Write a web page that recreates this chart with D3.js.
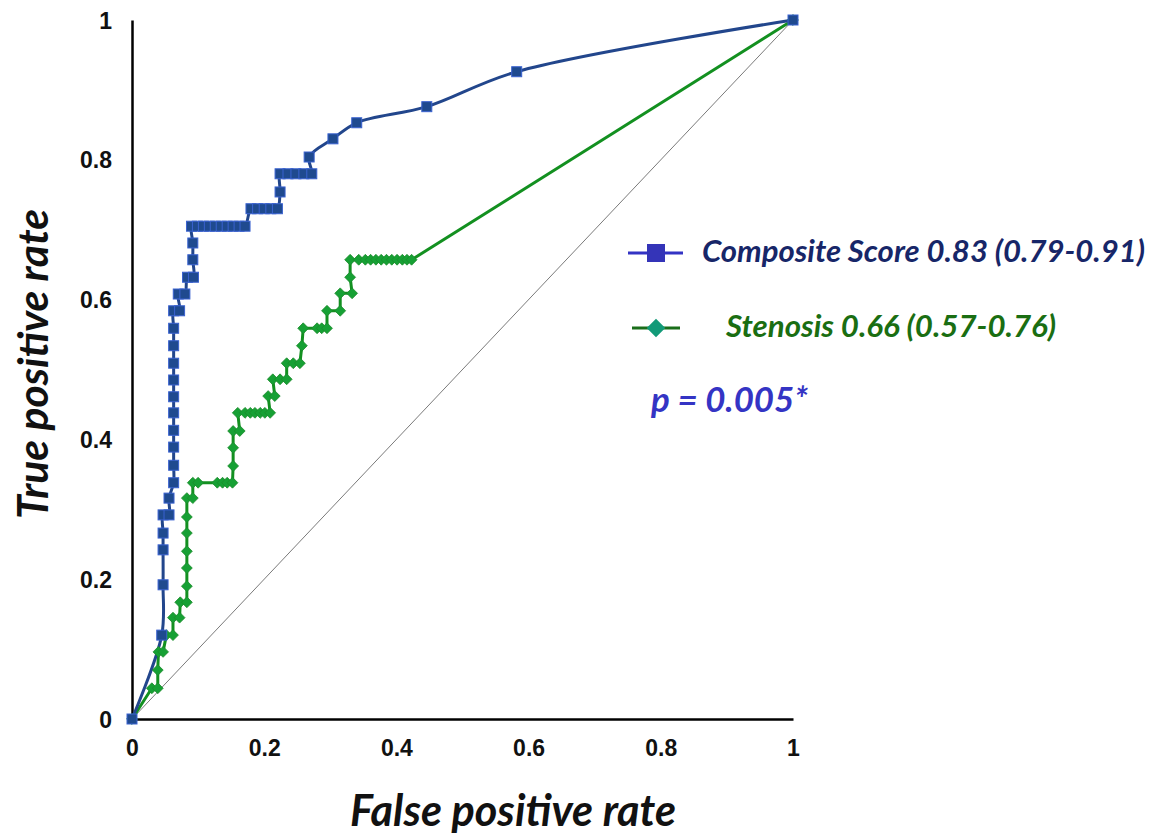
<!DOCTYPE html>
<html>
<head>
<meta charset="utf-8">
<script src="https://cdn.jsdelivr.net/npm/d3@7"></script>
<style>
  html, body { margin: 0; padding: 0; background: #fff; }
  svg { display: block; }
</style>
</head>
<body>
<svg id="chart" width="1164" height="834"></svg>
<script>
// ---- data ----
const xTicks = [0, 0.2, 0.4, 0.6, 0.8, 1];
const yTicks = [0, 0.2, 0.4, 0.6, 0.8, 1];
const xTickLabels = ["0", "0.2", "0.4", "0.6", "0.8", "1"];
const yTickLabels = ["0", "0.2", "0.4", "0.6", "0.8", "1"];

// Composite Score ROC (fpr, tpr)
const compositeFpr = [0, 0.045, 0.047, 0.047, 0.047, 0.047, 0.056, 0.056,
  0.063, 0.063, 0.063, 0.063, 0.063, 0.063, 0.063, 0.063, 0.063, 0.063,
  0.063, 0.072, 0.070, 0.080, 0.084, 0.093, 0.092, 0.092,
  0.090, 0.099, 0.108, 0.117, 0.126, 0.135, 0.144, 0.153, 0.162, 0.171,
  0.180, 0.190, 0.200, 0.210, 0.220, 0.224,
  0.224, 0.236, 0.248, 0.260, 0.272,
  0.268, 0.304, 0.340, 0.446, 0.582, 1];
const compositeTpr = [0, 0.120, 0.192, 0.242, 0.266, 0.292, 0.292, 0.316,
  0.338, 0.363, 0.389, 0.413, 0.438, 0.461, 0.485, 0.509, 0.534, 0.559,
  0.584, 0.584, 0.608, 0.608, 0.632, 0.632, 0.657, 0.681,
  0.705, 0.705, 0.705, 0.705, 0.705, 0.705, 0.705, 0.705, 0.705, 0.705,
  0.730, 0.730, 0.730, 0.730, 0.730, 0.754,
  0.780, 0.780, 0.780, 0.780, 0.780,
  0.804, 0.830, 0.853, 0.876, 0.926, 1];

// Stenosis ROC (fpr, tpr)
const stenosisFpr = [0, 0.030, 0.039, 0.039, 0.040, 0.047, 0.052, 0.062,
  0.062, 0.072, 0.073, 0.083, 0.083, 0.083, 0.083, 0.083, 0.083, 0.083, 0.092,
  0.092, 0.100, 0.129, 0.137, 0.144, 0.152,
  0.153, 0.153, 0.153, 0.163,
  0.160, 0.171, 0.179, 0.186, 0.194, 0.201, 0.209,
  0.206, 0.216,
  0.213, 0.224, 0.234,
  0.234, 0.244, 0.254,
  0.257,
  0.259, 0.280, 0.287, 0.295,
  0.295, 0.315,
  0.315, 0.333,
  0.330,
  0.330, 0.343, 0.353, 0.361, 0.369, 0.377, 0.385, 0.393, 0.401, 0.409, 0.416, 0.423,
  1];
const stenosisTpr = [0, 0.044, 0.044, 0.070, 0.096, 0.096, 0.120, 0.120,
  0.145, 0.145, 0.167, 0.167, 0.190, 0.216, 0.240, 0.266, 0.289, 0.316, 0.316,
  0.338, 0.338, 0.338, 0.338, 0.338, 0.338,
  0.362, 0.388, 0.412, 0.412,
  0.438, 0.438, 0.438, 0.438, 0.438, 0.438, 0.438,
  0.462, 0.462,
  0.486, 0.486, 0.486,
  0.509, 0.509, 0.509,
  0.534,
  0.559, 0.559, 0.559, 0.559,
  0.584, 0.584,
  0.609, 0.609,
  0.632,
  0.657, 0.657, 0.657, 0.657, 0.657, 0.657, 0.657, 0.657, 0.657, 0.657, 0.657, 0.657,
  1];

const legendLabels = ["Composite Score 0.83 (0.79-0.91)", "Stenosis 0.66 (0.57-0.76)"];
const pText = "p = 0.005*";
const xTitle = "False positive rate";
const yTitle = "True positive rate";

// ---- drawing ----
const svg = d3.select("#chart");
const x = d3.scaleLinear().domain([0, 1]).range([132, 793]);
const y = d3.scaleLinear().domain([0, 1]).range([719, 20]);

const tickFont = "'Liberation Sans', Arial, sans-serif";
const titleFont = "Lato, 'Open Sans', sans-serif";

function fit(sel, w) {
  const n = sel.node();
  const fs = parseFloat(sel.attr("font-size"));
  const cur = n.getComputedTextLength();
  if (cur > 0) sel.attr("font-size", (fs * w / cur).toFixed(2));
}

// chance diagonal
svg.append("line")
  .attr("x1", x(0)).attr("y1", y(0)).attr("x2", x(1)).attr("y2", y(1))
  .attr("stroke", "#7a7a7a").attr("stroke-width", 1);

// axes
const xAxis = d3.axisBottom(x).tickValues(xTicks).tickSize(0).tickPadding(21)
  .tickFormat((d, i) => xTickLabels[i]);
const yAxis = d3.axisLeft(y).tickValues(yTicks).tickSize(0).tickPadding(20)
  .tickFormat((d, i) => yTickLabels[i]);

const gx = svg.append("g").attr("transform", `translate(0,${y(0)})`).call(xAxis);
const gy = svg.append("g").attr("transform", `translate(${x(0)},0)`).call(yAxis);
[gx, gy].forEach(g => {
  g.attr("font-size", null).attr("font-family", null);
  g.select(".domain").attr("stroke", "#000").attr("stroke-width", 2.5);
  g.selectAll("text")
    .style("font-family", tickFont).style("font-weight", "bold")
    .style("font-size", "23px").attr("fill", "#111");
});
gy.selectAll("text").attr("dy", "0.35em");

// series
const compPts = compositeFpr.map((f, i) => [f, compositeTpr[i]]);
const stenPts = stenosisFpr.map((f, i) => [f, stenosisTpr[i]]);

const blueLine = "#22468c";
const greenLine = "#139020";

svg.append("path")
  .datum(stenPts)
  .attr("fill", "none").attr("stroke", greenLine).attr("stroke-width", 3)
  .attr("stroke-linejoin", "round")
  .attr("d", d3.line().x(d => x(d[0])).y(d => y(d[1])));

svg.append("path")
  .datum(compPts)
  .attr("fill", "none").attr("stroke", blueLine).attr("stroke-width", 3)
  .attr("d", d3.line().x(d => x(d[0])).y(d => y(d[1])).curve(d3.curveCatmullRom.alpha(0.5)));

const diamond = d3.symbol().type(d3.symbolDiamond2).size(75);
svg.append("g").selectAll("path").data(stenPts).join("path")
  .attr("transform", d => `translate(${x(d[0])},${y(d[1])})`)
  .attr("d", diamond)
  .attr("fill", "#16a034").attr("stroke", "#1a8a2a").attr("stroke-width", 0.8);

svg.append("g").selectAll("rect").data(compPts).join("rect")
  .attr("x", d => x(d[0]) - 5).attr("y", d => y(d[1]) - 5)
  .attr("width", 10).attr("height", 10)
  .attr("fill", "#1f4a8f").attr("stroke", "#3a62d0").attr("stroke-width", 1);

// axis titles
const xt = svg.append("text").text(xTitle)
  .attr("x", 513).attr("y", 826).attr("text-anchor", "middle")
  .attr("font-family", titleFont).attr("font-weight", "bold").attr("font-style", "italic")
  .attr("font-size", 36).attr("fill", "#111");
fit(xt, 326);
const yt = svg.append("text").text(yTitle)
  .attr("transform", "translate(48,364) rotate(-90)").attr("text-anchor", "middle")
  .attr("font-family", titleFont).attr("font-weight", "bold").attr("font-style", "italic")
  .attr("font-size", 36).attr("fill", "#111");
fit(yt, 310);

// legend
const lg = svg.append("g");
// composite
lg.append("line").attr("x1", 628).attr("x2", 683).attr("y1", 253).attr("y2", 253)
  .attr("stroke", "#3333c4").attr("stroke-width", 3);
lg.append("rect").attr("x", 647).attr("y", 244).attr("width", 18).attr("height", 18)
  .attr("fill", "#3434b8");
const t1 = lg.append("text").text(legendLabels[0])
  .attr("x", 702).attr("y", 262)
  .attr("font-family", titleFont).attr("font-weight", "bold").attr("font-style", "italic")
  .attr("font-size", 25).attr("fill", "#172668");
fit(t1, 443);
// stenosis
lg.append("line").attr("x1", 632).attr("x2", 680).attr("y1", 328).attr("y2", 328)
  .attr("stroke", "#1a6e1a").attr("stroke-width", 3);
lg.append("path").attr("transform", "translate(656,328)")
  .attr("d", d3.symbol().type(d3.symbolDiamond2).size(220))
  .attr("fill", "#129a78");
const t2 = lg.append("text").text(legendLabels[1])
  .attr("x", 726).attr("y", 337)
  .attr("font-family", titleFont).attr("font-weight", "bold").attr("font-style", "italic")
  .attr("font-size", 25).attr("fill", "#1a6e12");
fit(t2, 330);
const t3 = lg.append("text").text(pText)
  .attr("x", 651).attr("y", 412)
  .attr("font-family", titleFont).attr("font-weight", "bold").attr("font-style", "italic")
  .attr("font-size", 25).attr("fill", "#3434c4");
fit(t3, 157);
</script>
</body>
</html>
